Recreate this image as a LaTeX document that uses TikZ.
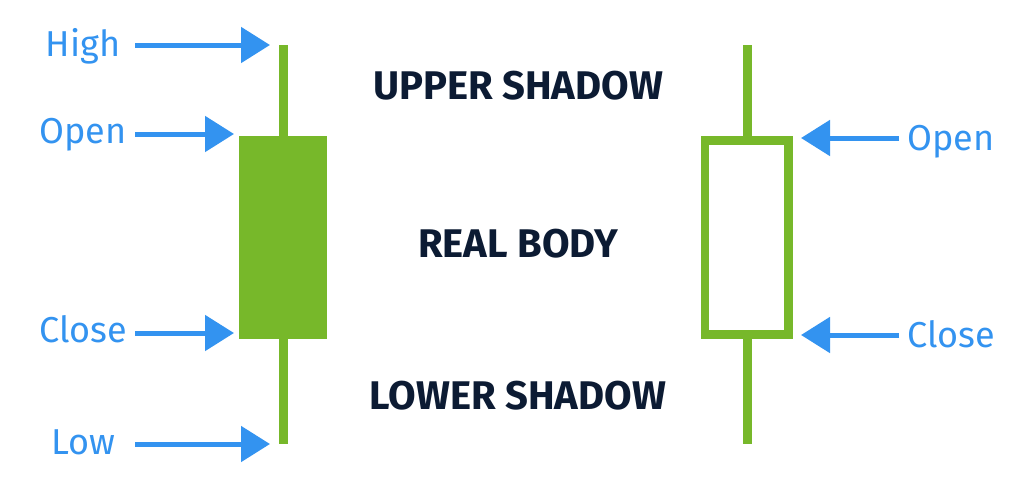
\documentclass[tikz,border=0pt]{standalone}
\usepackage{fontspec}
\setmainfont{Fira Sans}
\usetikzlibrary{arrows.meta}
\definecolor{cblue}{HTML}{3393F0}
\definecolor{cgreen}{HTML}{77B82A}
\definecolor{cnavy}{HTML}{0C1B33}
\tikzset{
  lbl/.style={anchor=base, text=cblue, inner sep=0pt, font=\fontsize{36}{40}\selectfont},
  ttl/.style={anchor=base, text=cnavy, inner sep=0pt, font=\fontsize{40}{44}\selectfont\bfseries},
  arr/.style={draw=cblue, line width=5pt, -{Triangle[length=29pt,width=35pt]}},
  wick/.style={draw=cgreen, line width=9pt},
}
\begin{document}
\begin{tikzpicture}[x=1pt,y=-1pt]
\useasboundingbox[fill=white] (0,0) rectangle (1024,498);
% left candle
\draw[wick] (283,45) -- (283,444);
\fill[cgreen] (239,136) rectangle (327,339);
% right candle
\draw[wick] (747,45) -- (747,140);
\draw[wick] (747,335) -- (747,444);
\draw[draw=cgreen, line width=8.5pt] (705,140.5) rectangle (788.5,334.5);
% labels
\node[lbl] (high) at (83,56) {High};
\node[lbl] (open1) at (83,143) {Open};
\node[lbl] (close1) at (83,342) {Close};
\node[lbl] (low) at (83,454) {Low};
\node[lbl] (open2) at (951,150) {Open};
\node[lbl] (close2) at (951,347) {Close};
\node[ttl] (upper) at (518,99) {UPPER SHADOW};
\node[ttl] (real) at (518,257) {REAL BODY};
\node[ttl] (lower) at (518,409) {LOWER SHADOW};
% arrow coordinates
\coordinate (hA) at (135,45); \coordinate (hB) at (270,45);
\coordinate (oA) at (135,134); \coordinate (oB) at (234,134);
\coordinate (cA) at (135,333); \coordinate (cB) at (234,333);
\coordinate (lA) at (135,444); \coordinate (lB) at (270,444);
\coordinate (o2A) at (899,138); \coordinate (o2B) at (801,138);
\coordinate (c2A) at (899,335); \coordinate (c2B) at (801,335);
\draw[arr] (hA) -- (hB);
\draw[arr] (oA) -- (oB);
\draw[arr] (cA) -- (cB);
\draw[arr] (lA) -- (lB);
\draw[arr] (o2A) -- (o2B);
\draw[arr] (c2A) -- (c2B);
\end{tikzpicture}
\end{document}
